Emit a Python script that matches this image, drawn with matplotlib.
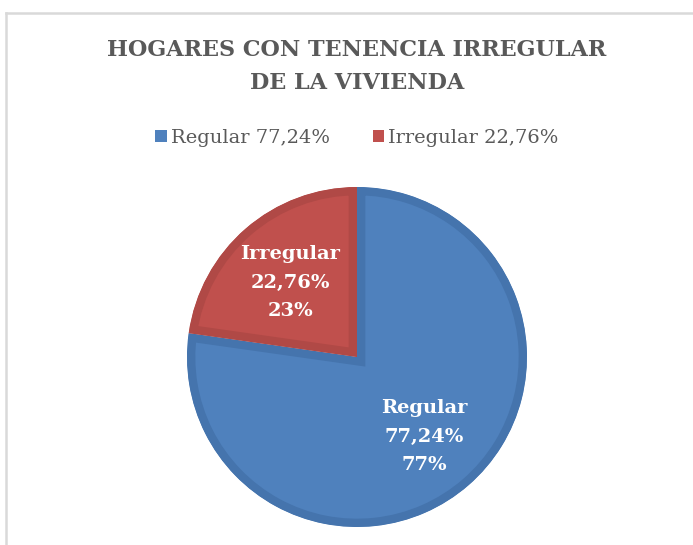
import matplotlib.pyplot as plt
from matplotlib.patches import Rectangle
import numpy as np

categories = ['Regular', 'Irregular']
shares = [77.24, 22.76]
share_labels = ['77,24%', '22,76%']
legend_labels = ['Regular 77,24%', 'Irregular 22,76%']
fills = ['#4F81BD', '#C0504D']
edges = ['#4574AD', '#B04946']

fig = plt.figure(figsize=(6.93, 5.45), dpi=100)
fig.patch.set_facecolor('white')

# chart area border (only top and left visible)
fig.add_artist(plt.Line2D([6 / 693, 1], [1 - 13 / 545] * 2, color='#D9D9D9', lw=1.8))
fig.add_artist(plt.Line2D([6 / 693] * 2, [0, 1 - 13 / 545], color='#D9D9D9', lw=1.8))

for txt, ypx in [('HOGARES CON TENENCIA IRREGULAR', 50), ('DE LA VIVIENDA', 83)]:
    fig.text(357 / 693, 1 - ypx / 545, txt, ha='center', va='center',
             family='DejaVu Serif', weight='bold', fontsize=16, color='#595959')

ax = fig.add_axes([187 / 693, 18 / 545, 340 / 693, 340 / 545])
wedges, _ = ax.pie(shares, colors=fills, startangle=90, counterclock=False, radius=1)
# bevel look: darker band along the inside of each wedge's outline
for w, ec in zip(wedges, edges):
    w.set_edgecolor(ec)
    w.set_linewidth(12)
    w.set_joinstyle('miter')
    w.set_clip_on(True)
    w.set_clip_path(w.get_path(), w.get_transform())

for w, name, lab, s in zip(wedges, categories, share_labels, shares):
    mid = np.deg2rad((w.theta1 + w.theta2) / 2)
    x, y = 0.6 * np.cos(mid), 0.6 * np.sin(mid) - 0.015
    ax.text(x, y, f'{name}\n{lab}\n{round(s):.0f}%', ha='center', va='center',
            family='DejaVu Serif', weight='bold', fontsize=14, color='white',
            linespacing=1.75)
ax.set_xlim(-1, 1)
ax.set_ylim(-1, 1)
ax.set_aspect('equal')

handles = [Rectangle((0, 0), 1, 1, facecolor=c, edgecolor='none') for c in fills]
fig.legend(handles, legend_labels, loc='center', bbox_to_anchor=(357 / 693, 1 - 138 / 545),
           ncol=2, frameon=False, prop=dict(family='DejaVu Serif', size=14),
           labelcolor='#595959', handlelength=0.6, handleheight=0.6, handletextpad=0.2,
           columnspacing=2.2)

fig.savefig('out.png', dpi=100)
